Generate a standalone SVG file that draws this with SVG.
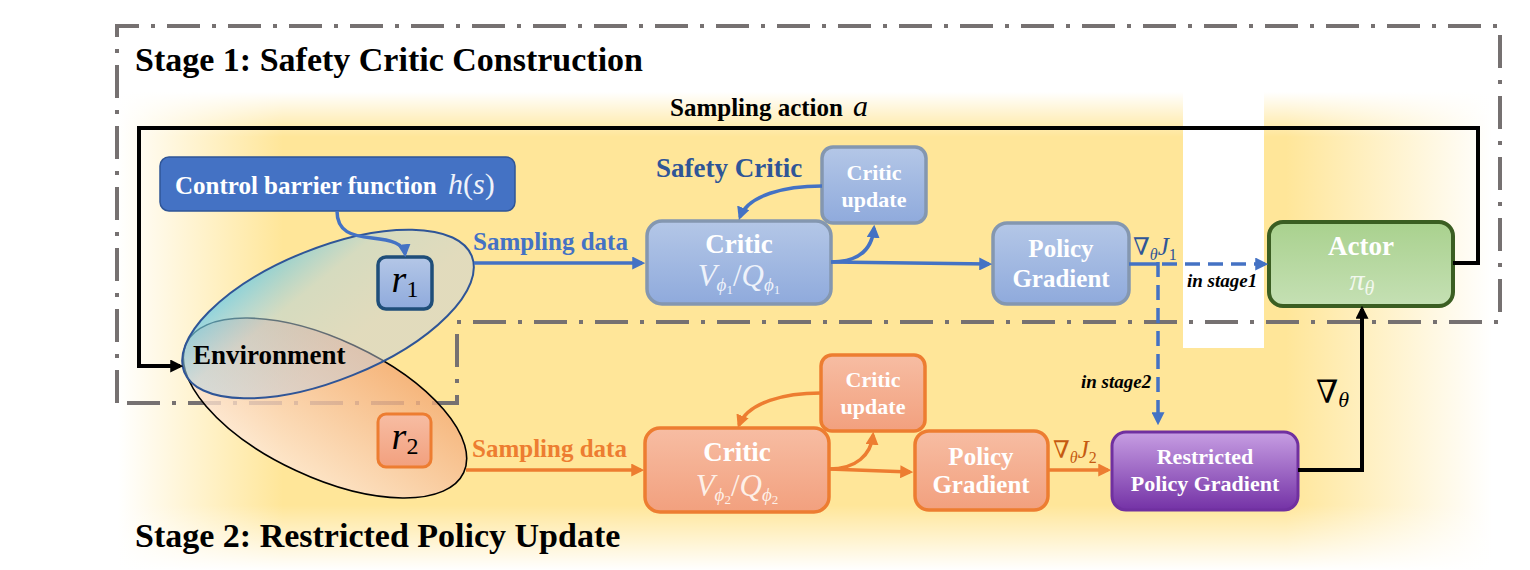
<svg xmlns="http://www.w3.org/2000/svg" width="1530" height="570" viewBox="0 0 1530 570">
<defs>
<style>
.title{font-family:"Liberation Serif","Times New Roman",serif;font-weight:bold;font-size:34px;fill:#000}
.lbl{font-family:"Liberation Serif","Times New Roman",serif;font-weight:bold}
.bt{font-family:"Liberation Serif","Times New Roman",serif;font-weight:bold;fill:#FFFFFF;text-anchor:middle}
.math{font-family:"Liberation Serif","DejaVu Serif",serif;font-style:italic;font-weight:normal}
.up{font-style:normal}
.nab{font-family:"DejaVu Serif",serif;font-style:normal}
.lb{fill:none;stroke:#4472C4;stroke-width:3.5}
.lo{fill:none;stroke:#ED7D31;stroke-width:3.5}
.lk{fill:none;stroke:#000;stroke-width:4}
.dash{stroke-dasharray:15 8}
.frame{fill:none;stroke:#767171;stroke-width:4;stroke-dasharray:33 12 4 12}
.bluebox{fill:url(#gBlue);stroke:#8497B0;stroke-width:3.5}
.orbox{fill:url(#gOr);stroke:#ED7D31;stroke-width:3.5}
</style>
<linearGradient id="gBg" gradientUnits="userSpaceOnUse" x1="118" y1="0" x2="1492" y2="0">
<stop offset="0" stop-color="#FFFFFF"/>
<stop offset="0.12" stop-color="#FFE699"/>
<stop offset="0.85" stop-color="#FFE699"/>
<stop offset="1" stop-color="#FFFFFF"/>
</linearGradient>
<linearGradient id="gTop" x1="0" y1="0" x2="0" y2="1">
<stop offset="0" stop-color="#FFFFFF" stop-opacity="1"/>
<stop offset="1" stop-color="#FFFFFF" stop-opacity="0"/>
</linearGradient>
<linearGradient id="gBot" x1="0" y1="0" x2="0" y2="1">
<stop offset="0" stop-color="#FFFFFF" stop-opacity="0"/>
<stop offset="1" stop-color="#FFFFFF" stop-opacity="1"/>
</linearGradient>
<linearGradient id="gBlue" x1="0" y1="0" x2="0" y2="1">
<stop offset="0" stop-color="#B4C7E7"/>
<stop offset="1" stop-color="#8FAADC"/>
</linearGradient>
<linearGradient id="gOr" x1="0" y1="0" x2="0" y2="1">
<stop offset="0" stop-color="#F7BDA3"/>
<stop offset="1" stop-color="#F2A07E"/>
</linearGradient>
<linearGradient id="gGreen" x1="0" y1="0" x2="0" y2="1">
<stop offset="0" stop-color="#A9D18E"/>
<stop offset="1" stop-color="#C5E0B4"/>
</linearGradient>
<linearGradient id="gPurple" x1="0" y1="0" x2="0" y2="1">
<stop offset="0" stop-color="#C79EE3"/>
<stop offset="1" stop-color="#7432A6"/>
</linearGradient>
<linearGradient id="gEnvB" x1="0.05" y1="0.05" x2="0.55" y2="0.75">
<stop offset="0" stop-color="#46C4E6" stop-opacity="0.8"/>
<stop offset="0.5" stop-color="#B4D2DE" stop-opacity="0.55"/>
<stop offset="1" stop-color="#C4D0E0" stop-opacity="0.5"/>
</linearGradient>
<linearGradient id="gEnvO" x1="0.7" y1="0" x2="0.3" y2="1">
<stop offset="0" stop-color="#F3A872" stop-opacity="0.8"/>
<stop offset="1" stop-color="#FDE8D8" stop-opacity="0.8"/>
</linearGradient>
<marker id="arrB" viewBox="0 0 12 12" refX="9" refY="6" markerWidth="13" markerHeight="13" markerUnits="userSpaceOnUse" orient="auto"><path d="M0,0 L12,6 L0,12 z" fill="#4472C4"/></marker>
<marker id="arrO" viewBox="0 0 12 12" refX="9" refY="6" markerWidth="13" markerHeight="13" markerUnits="userSpaceOnUse" orient="auto"><path d="M0,0 L12,6 L0,12 z" fill="#ED7D31"/></marker>
<marker id="arrK" viewBox="0 0 12 12" refX="9" refY="6" markerWidth="13" markerHeight="13" markerUnits="userSpaceOnUse" orient="auto"><path d="M0,0 L12,6 L0,12 z" fill="#000"/></marker>
</defs>

<g id="background">
<rect x="118" y="92" width="1374" height="478" fill="url(#gBg)"/>
<rect x="118" y="92" width="1374" height="45" fill="url(#gTop)"/>
<rect x="118" y="505" width="1374" height="65" fill="url(#gBot)"/>
<rect x="1183" y="92" width="81" height="256" fill="#FFFFFF"/>
</g>

<g id="stage1-frame">
<path class="frame" d="M117,403 V26 H1500 V322 H457 V403 Z"/>
</g>

<g id="titles">
<text class="title" x="135" y="71">Stage 1: Safety Critic Construction</text>
<text class="title" x="135" y="547">Stage 2: Restricted Policy Update</text>
</g>

<g id="environment">
<ellipse cx="325" cy="408" rx="153" ry="69" transform="rotate(25 325 408)" fill="url(#gEnvO)" stroke="#000" stroke-width="1.6"/>
<ellipse cx="328" cy="314" rx="155" ry="66" transform="rotate(-22 328 314)" fill="url(#gEnvB)" stroke="#2F5597" stroke-width="2"/>
<text class="lbl" x="193" y="364" font-size="27" fill="#000">Environment</text>
</g>

<g id="cbf">
<rect x="160" y="157" width="355" height="54" rx="9" fill="#4472C4" stroke="#2F5597" stroke-width="1.5"/>
<text class="lbl" x="175" y="194" font-size="25" fill="#FFFFFF">Control barrier function</text>
<text class="math" x="448" y="194" font-size="30" fill="#EEF2FA">h<tspan class="up">(</tspan>s<tspan class="up">)</tspan></text>
</g>

<g id="r1">
<rect x="378" y="257" width="54" height="52" rx="8" fill="url(#gBlue)" stroke="#1F4E79" stroke-width="3.5"/>
<text class="math" x="405" y="292" font-size="38" text-anchor="middle" fill="#000">r<tspan class="up" font-size="24" dy="5">1</tspan></text>
</g>

<g id="r2">
<rect x="378" y="414" width="53" height="53" rx="8" fill="url(#gOr)" stroke="#ED7D31" stroke-width="3"/>
<text class="math" x="405" y="449" font-size="38" text-anchor="middle" fill="#000">r<tspan class="up" font-size="24" dy="5">2</tspan></text>
</g>

<g id="critic1">
<rect class="bluebox" x="647" y="221" width="184" height="83" rx="15"/>
<text class="bt" x="739" y="253" font-size="27">Critic</text>
<text class="math" x="739" y="286" font-size="31" text-anchor="middle" fill="#EEF2FA">V<tspan font-size="19" dy="5">ϕ</tspan><tspan class="up" font-size="13" dy="3">1</tspan><tspan class="up" dy="-8">/</tspan>Q<tspan font-size="19" dy="5">ϕ</tspan><tspan class="up" font-size="13" dy="3">1</tspan></text>
</g>

<g id="critic-update1">
<rect class="bluebox" x="822" y="147" width="104" height="76" rx="11"/>
<text class="bt" x="874" y="180" font-size="22">Critic</text>
<text class="bt" x="874" y="207" font-size="22">update</text>
</g>

<g id="safety-critic-label">
<text class="lbl" x="656" y="177" font-size="27" fill="#2F5597">Safety Critic</text>
</g>

<g id="policy-gradient1">
<rect class="bluebox" x="993" y="223" width="136" height="81" rx="14"/>
<text class="bt" x="1061" y="257" font-size="25">Policy</text>
<text class="bt" x="1061" y="287" font-size="25">Gradient</text>
</g>

<g id="actor">
<rect x="1269" y="222" width="184" height="84" rx="14" fill="url(#gGreen)" stroke="#3B5E22" stroke-width="4"/>
<text class="bt" x="1361" y="255" font-size="27">Actor</text>
<text class="math" x="1362" y="290" font-size="30" text-anchor="middle" fill="#F2F8EE">π<tspan font-size="20" dy="5">θ</tspan></text>
</g>

<g id="critic2">
<rect class="orbox" x="645" y="428" width="184" height="84" rx="15"/>
<text class="bt" x="737" y="461" font-size="27">Critic</text>
<text class="math" x="737" y="496" font-size="31" text-anchor="middle" fill="#FDF0E8">V<tspan font-size="19" dy="5">ϕ</tspan><tspan class="up" font-size="13" dy="3">2</tspan><tspan class="up" dy="-8">/</tspan>Q<tspan font-size="19" dy="5">ϕ</tspan><tspan class="up" font-size="13" dy="3">2</tspan></text>
</g>

<g id="critic-update2">
<rect class="orbox" x="821" y="355" width="104" height="76" rx="11"/>
<text class="bt" x="873" y="387" font-size="22">Critic</text>
<text class="bt" x="873" y="414" font-size="22">update</text>
</g>

<g id="policy-gradient2">
<rect class="orbox" x="915" y="431" width="133" height="79" rx="14"/>
<text class="bt" x="981" y="465" font-size="25">Policy</text>
<text class="bt" x="981" y="493" font-size="25">Gradient</text>
</g>

<g id="restricted-policy-gradient">
<rect x="1112" y="432" width="186" height="78" rx="14" fill="url(#gPurple)" stroke="#7030A0" stroke-width="3"/>
<text class="bt" x="1205" y="464" font-size="22">Restricted</text>
<text class="bt" x="1205" y="491" font-size="22">Policy Gradient</text>
</g>

<g id="connectors">
<path class="lb" d="M337,211 C337,232 352,236 372,238 C392,240 404,244 405,254" marker-end="url(#arrB)"/>
<path class="lb" d="M474,263 L642,263" marker-end="url(#arrB)"/>
<path class="lb" d="M822,186 C785,186 748,195 740,217" marker-end="url(#arrB)"/>
<path class="lb" d="M831,262 C858,262 872,250 874,228" marker-end="url(#arrB)"/>
<path class="lb" d="M831,262 L989,264" marker-end="url(#arrB)"/>
<path class="lb" d="M1129,264 L1159,264"/>
<path class="lb dash" d="M1162,264 L1265,264" marker-end="url(#arrB)"/>
<path class="lb dash" d="M1158,262 L1158,422" marker-end="url(#arrB)"/>
<path class="lk" d="M1453,263 H1478 V128 H139 V366 H180" marker-end="url(#arrK)"/>
<path class="lo" d="M466,470 L641,470" marker-end="url(#arrO)"/>
<path class="lo" d="M821,393 C785,393 748,402 739,425" marker-end="url(#arrO)"/>
<path class="lo" d="M829,469 C856,469 871,455 873,435" marker-end="url(#arrO)"/>
<path class="lo" d="M829,469 L910,472" marker-end="url(#arrO)"/>
<path class="lo" d="M1048,470 L1108,470" marker-end="url(#arrO)"/>
<path class="lk" d="M1298,470 H1362 V309" marker-end="url(#arrK)"/>
</g>

<g id="connector-labels">
<text class="lbl" x="670" y="116" font-size="25" fill="#000">Sampling action</text>
<text class="math" x="853" y="116" font-size="30" fill="#000">a</text>
<text class="lbl" x="473" y="250" font-size="25" fill="#4472C4">Sampling data</text>
<text class="lbl" x="472" y="457" font-size="25" fill="#ED7D31">Sampling data</text>
<text class="math" x="1133" y="255" font-size="25" fill="#2F5597"><tspan class="nab" font-size="24">∇</tspan><tspan font-size="16" dy="5">θ</tspan><tspan dy="-5">J</tspan><tspan class="up" font-size="16" dy="5">1</tspan></text>
<text class="math" x="1053" y="458" font-size="25" fill="#C55A11"><tspan class="nab" font-size="24">∇</tspan><tspan font-size="16" dy="5">θ</tspan><tspan dy="-5">J</tspan><tspan class="up" font-size="16" dy="5">2</tspan></text>
<text class="lbl" x="1187" y="287" font-size="19" font-style="italic" fill="#000">in stage1</text>
<text class="lbl" x="1081" y="388" font-size="19" font-style="italic" fill="#000">in stage2</text>
<text class="math" x="1316" y="403" font-size="32" fill="#000"><tspan class="nab">∇</tspan><tspan font-size="22" dy="4">θ</tspan></text>
</g>
</svg>
